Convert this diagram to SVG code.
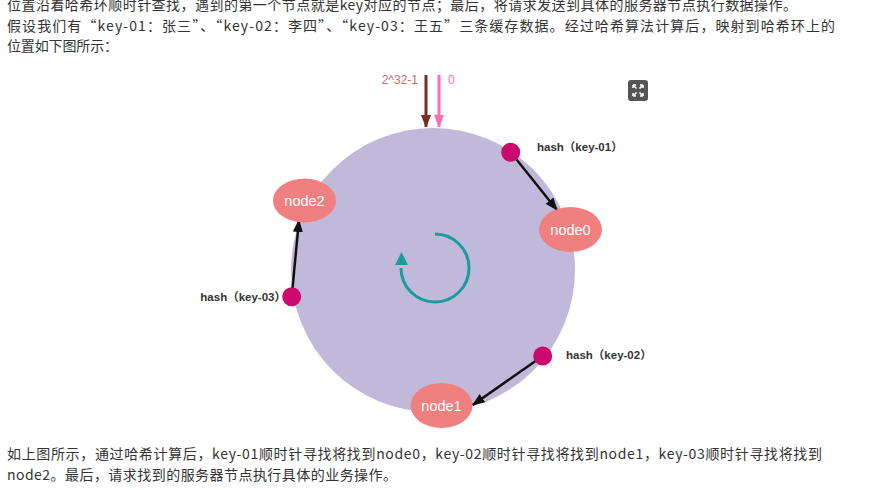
<svg xmlns="http://www.w3.org/2000/svg" width="876" height="490" viewBox="0 0 876 490">
  <style>
    .para { font-family: "Noto Sans CJK SC", "Liberation Sans", sans-serif; font-size: 14px; fill: #333333; }
    .node-shape { fill: #f08080; }
    .node-text { font-family: "Liberation Sans", Arial, sans-serif; font-size: 14.5px; fill: #ffffff; text-anchor: middle; }
    .hash-dot { fill: #cc0a6e; }
    .hash-text { font-family: "Liberation Sans", "Noto Sans CJK SC", sans-serif; font-size: 11.5px; font-weight: bold; fill: #333333; }
    .conn { stroke: #111111; stroke-width: 2.5; fill: none; }
  </style>
  <defs>
    <marker id="arrowBlack" markerUnits="userSpaceOnUse" markerWidth="13" markerHeight="10" refX="12" refY="5" orient="auto">
      <path d="M0,0 L13,5 L0,10 z" fill="#111111"/>
    </marker>
    <marker id="arrowMaroon" markerUnits="userSpaceOnUse" markerWidth="10" markerHeight="13" refX="12" refY="5" orient="auto">
      <path d="M0,0 L13,5 L0,10 z" fill="#7a2a1e"/>
    </marker>
    <marker id="arrowPink" markerUnits="userSpaceOnUse" markerWidth="10" markerHeight="13" refX="12" refY="5" orient="auto">
      <path d="M0,0 L13,5 L0,10 z" fill="#ff6eb4"/>
    </marker>
  </defs>

  <rect x="0" y="0" width="876" height="490" fill="#ffffff"/>

  <!-- paragraph text -->
  <g id="text-top">
    <text class="para" x="7" y="10" textLength="790" lengthAdjust="spacing">位置沿着哈希环顺时针查找，遇到的第一个节点就是key对应的节点；最后，将请求发送到具体的服务器节点执行数据操作。</text>
    <text class="para" x="7" y="30.5" textLength="828" lengthAdjust="spacing">假设我们有“key-01：张三”、“key-02：李四”、“key-03：王五”三条缓存数据。经过哈希算法计算后，映射到哈希环上的</text>
    <text class="para" x="7" y="51" textLength="111" lengthAdjust="spacing">位置如下图所示：</text>
  </g>

  <!-- hash ring -->
  <g id="ring">
    <circle cx="433" cy="270" r="142" fill="#c1b9da"/>
  </g>

  <!-- rotation indicator -->
  <g id="rotation">
    <path d="M435,234 A34,34 0 1 1 401,268" fill="none" stroke="#1a9c9c" stroke-width="3"/>
    <path d="M401.5,252 L395,265 L408,265 z" fill="#1a9c9c"/>
  </g>

  <!-- top markers -->
  <g id="top-markers">
    <line x1="426" y1="75" x2="426" y2="127" stroke="#7a2a1e" stroke-width="3" marker-end="url(#arrowMaroon)"/>
    <line x1="439" y1="75" x2="439" y2="127" stroke="#ff6eb4" stroke-width="3" marker-end="url(#arrowPink)"/>
    <text x="418" y="84" font-family="Liberation Sans, Arial, sans-serif" font-size="12" fill="#b8706e" text-anchor="end">2^32-1</text>
    <text x="448" y="84" font-family="Liberation Sans, Arial, sans-serif" font-size="12" fill="#ff6eb4">0</text>
  </g>

  <!-- connectors -->
  <g id="connectors">
    <line class="conn" x1="510.7" y1="152.3" x2="557" y2="210" marker-end="url(#arrowBlack)"/>
    <line class="conn" x1="542.7" y1="356" x2="472.7" y2="405" marker-end="url(#arrowBlack)"/>
    <line class="conn" x1="291.7" y1="296.7" x2="299" y2="220" marker-end="url(#arrowBlack)"/>
  </g>

  <!-- server nodes -->
  <g id="node0">
    <ellipse class="node-shape" cx="570.5" cy="229.5" rx="31.5" ry="22.5"/>
    <text class="node-text" x="570.5" y="234.5">node0</text>
  </g>
  <g id="node1">
    <ellipse class="node-shape" cx="441.5" cy="405.5" rx="31" ry="22.5"/>
    <text class="node-text" x="441.5" y="410.5">node1</text>
  </g>
  <g id="node2">
    <ellipse class="node-shape" cx="304.5" cy="200.5" rx="31.5" ry="22"/>
    <text class="node-text" x="304.5" y="205.5">node2</text>
  </g>

  <!-- hash points -->
  <g id="hash-key-01">
    <circle class="hash-dot" cx="510.7" cy="152.3" r="9.5"/>
    <text class="hash-text" x="537" y="151">hash（key-01）</text>
  </g>
  <g id="hash-key-02">
    <circle class="hash-dot" cx="542.7" cy="356" r="9.5"/>
    <text class="hash-text" x="566" y="359">hash（key-02）</text>
  </g>
  <g id="hash-key-03">
    <text class="hash-text" x="286" y="301" text-anchor="end">hash（key-03）</text>
    <circle class="hash-dot" cx="291.7" cy="296.7" r="9.5"/>
  </g>

  <!-- expand icon -->
  <g id="expand-icon">
    <rect x="628" y="80" width="20" height="21" rx="3" fill="#555555"/>
    <g stroke="#ffffff" stroke-width="1.6" fill="none">
      <path d="M633,85 L636.5,88.5 M633,85 L633,88 M633,85 L636,85"/>
      <path d="M643,85 L639.5,88.5 M643,85 L643,88 M643,85 L640,85"/>
      <path d="M633,96 L636.5,92.5 M633,96 L633,93 M633,96 L636,96"/>
      <path d="M643,96 L639.5,92.5 M643,96 L643,93 M643,96 L640,96"/>
    </g>
  </g>

  <g id="text-bottom">
    <text class="para" x="7" y="458.5" textLength="815" lengthAdjust="spacing">如上图所示，通过哈希计算后，key-01顺时针寻找将找到node0，key-02顺时针寻找将找到node1，key-03顺时针寻找将找到</text>
    <text class="para" x="7" y="479.5" textLength="390" lengthAdjust="spacing">node2。最后，请求找到的服务器节点执行具体的业务操作。</text>
  </g>
</svg>
